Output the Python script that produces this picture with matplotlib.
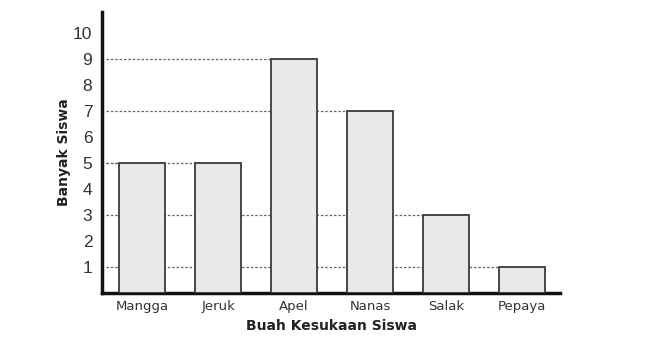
import matplotlib.pyplot as plt

# Data
fruits = ['Mangga', 'Jeruk', 'Apel', 'Nanas', 'Salak', 'Pepaya']
students = [5, 5, 9, 7, 3, 1]
y_ticks = [1, 2, 3, 4, 5, 6, 7, 8, 9, 10]

fig = plt.figure(figsize=(6.5, 3.46), dpi=100)
ax = fig.add_axes([0.157, 0.153, 0.705, 0.812])

x = list(range(len(fruits)))
ax.bar(x, students, width=0.605, color='#e8e9eb', edgecolor='#3a3a3a',
       linewidth=1.3, zorder=3)

# dashed guide lines from axis to the bar of that value
xmin, xmax = -0.526, 5.5
for i, v in enumerate(students):
    ax.hlines(v, xmin + 0.05, i, colors='#666666', linestyles=(0, (2, 1.5)),
              linewidth=0.9, zorder=1)

ax.set_xlim(xmin, xmax)
ax.set_ylim(0, 10.8)

ax.set_yticks(y_ticks)
ax.set_yticklabels([str(t) for t in y_ticks], fontsize=12.5,
                   family='Liberation Sans', color='#333333')
ax.set_xticks(x)
ax.set_xticklabels(fruits, fontsize=9.5, color='#333333')
ax.tick_params(axis='both', length=0)
ax.tick_params(axis='y', pad=7)
ax.tick_params(axis='x', pad=5)

for s in ['top', 'right']:
    ax.spines[s].set_visible(False)
for s in ['left', 'bottom']:
    ax.spines[s].set_linewidth(2.5)
    ax.spines[s].set_color('#111111')

ax.set_ylabel('Banyak Siswa', fontsize=10, fontweight='bold', labelpad=1.5,
              color='#222222')
ax.set_xlabel('Buah Kesukaan Siswa', fontsize=10, fontweight='bold',
              labelpad=4, color='#222222')

plt.savefig('out.png', dpi=100)
